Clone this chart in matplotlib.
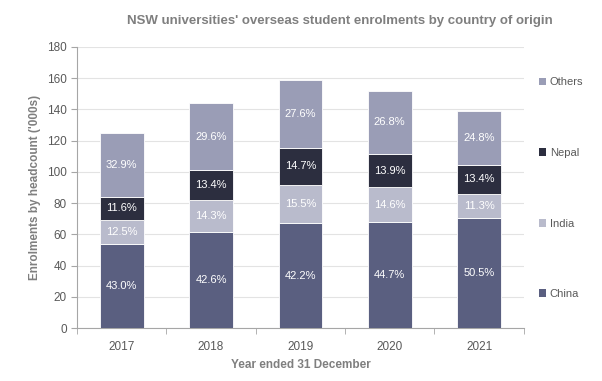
import numpy as np
import matplotlib.pyplot as plt
from matplotlib.patches import Patch

plt.rcParams['font.family'] = ['Liberation Sans', 'DejaVu Sans']

# Data
years = ['2017', '2018', '2019', '2020', '2021']
totals = [125, 144, 159, 152, 139]
countries = ['China', 'India', 'Nepal', 'Others']
china_pct = [43.0, 42.6, 42.2, 44.7, 50.5]
india_pct = [12.5, 14.3, 15.5, 14.6, 11.3]
nepal_pct = [11.6, 13.4, 14.7, 13.9, 13.4]
others_pct = [32.9, 29.6, 27.6, 26.8, 24.8]

colors = ['#5a5f80', '#b9bbcc', '#2c2e3f', '#9a9db6']
grey = '#7f7f7f'
tick_grey = '#595959'

fig = plt.figure(figsize=(6.02, 3.81), dpi=100)
ax = fig.add_axes([0.128, 0.139, 0.742, 0.738])

x = np.arange(len(years))
tot = np.array(totals, dtype=float)
bottom = np.zeros(len(years))
for name, pct, col in zip(countries, [china_pct, india_pct, nepal_pct, others_pct], colors):
    vals = tot * np.array(pct) / 100
    ax.bar(x, vals, 0.49, bottom=bottom, color=col, edgecolor='white', linewidth=0.6, zorder=3)
    for xi, b, v, p in zip(x, bottom, vals, pct):
        ax.text(xi, b + v / 2, f'{p:.1f}%', ha='center', va='center', color='white', fontsize=8, zorder=4)
    bottom += vals

ax.set_xlim(-0.5, 4.5)
ax.set_ylim(0, 180)
ax.set_yticks(range(0, 181, 20))
ax.set_xticks(x)
ax.set_xticklabels(years)
ax.set_xticks(np.arange(-0.5, 5, 1), minor=True)
ax.tick_params(axis='x', which='major', length=0, pad=9, labelsize=8.5, labelcolor=tick_grey)
ax.tick_params(axis='x', which='minor', length=4, color='#a6a6a6', direction='out')
ax.tick_params(axis='y', length=4, color='#a6a6a6', labelsize=8.5, labelcolor=tick_grey)
ax.grid(axis='y', color='#e3e3e3', linewidth=0.8, zorder=0)
for s in ['top', 'right']:
    ax.spines[s].set_visible(False)
for s in ['left', 'bottom']:
    ax.spines[s].set_color('#a6a6a6')

ax.set_ylabel("Enrolments by headcount ('000s)", fontsize=8.5, fontweight='bold', color=grey, labelpad=4)
ax.set_xlabel('Year ended 31 December', fontsize=8.5, fontweight='bold', color=grey, labelpad=5)
fig.text(0.565, 0.945, "NSW universities' overseas student enrolments by country of origin",
         ha='center', va='center', fontsize=9.5, fontweight='bold', color=grey)

handles = [Patch(facecolor=c, label=n) for n, c in zip(countries, colors)][::-1]
fig.legend(handles=handles, loc='upper left', bbox_to_anchor=(0.878, 0.823), frameon=False,
           fontsize=8, labelcolor=tick_grey, handlelength=0.7, handleheight=0.7,
           handletextpad=0.3, labelspacing=5.45)

fig.savefig('out.png', dpi=100)
